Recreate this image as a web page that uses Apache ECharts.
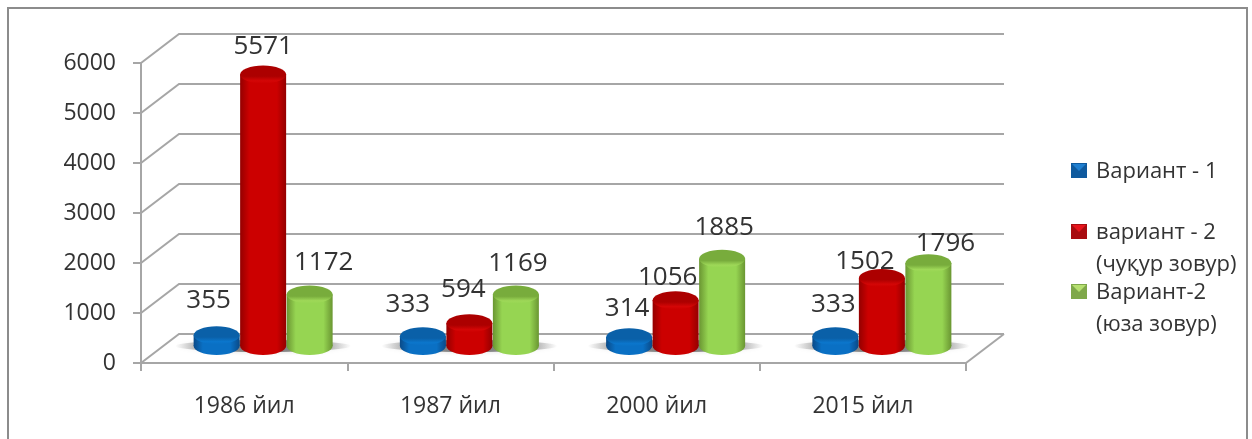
<!DOCTYPE html>
<html>
<head>
<meta charset="utf-8">
<style>html,body{margin:0;padding:0;background:#fff}#chart{width:1252px;height:439px}</style>
<script src="https://cdn.jsdelivr.net/npm/echarts@6/dist/echarts.min.js"></script>
</head>
<body>
<div id="chart"></div>
<script>
const years = ['1986 йил', '1987 йил', '2000 йил', '2015 йил'];
const variant1 = [355, 333, 314, 333];
const variant2Deep = [5571, 594, 1056, 1502];
const variant2Surface = [1172, 1169, 1885, 1796];
const seriesNames = ['Вариант - 1', 'вариант - 2\n(чуқур зовур)', 'Вариант-2\n(юза зовур)'];
const valueTicks = [0, 1000, 2000, 3000, 4000, 5000, 6000];

// Hand placement of the value labels relative to the top of each cylinder
const labelNudge = [
  [[-8, -35], [-15, -32], [-2, -29], [-2, -32]],
  [[0, -28], [-6, -34], [-8, -23], [-17, -16]],
  [[14, -32], [2, -31], [2, -31], [17, -20]]
];

const GREY = '#a6a6a6';
const TEXT = '#333333';
const FONT = '"Open Sans", "Noto Sans", sans-serif';
const DEPTH_X = 38, DEPTH_Y = 29;       // offset of the back wall from the front edge
const BAR_RX = 23, BAR_RY = 9;          // cylinder radii
const BAR_SHIFT_X = 19;                 // cylinders stand in the middle of the floor
const BASE_LIFT = 17, TOP_LIFT = 10;    // cylinder foot and head lift above the axis
const BAR_STEP = 46.5;

const palette = [
  { edge: '#0a4a88', mid: '#0a70c4', top: '#0a60a8', topLight: '#0b76cc', icon: '#1f7fd0', iconDark: '#0f5a9e' },
  { edge: '#940000', mid: '#cc0000', top: '#ac0000', topLight: '#d40606', icon: '#e8141c', iconDark: '#a80c10' },
  { edge: '#6a9632', mid: '#96d552', top: '#78ac3c', topLight: '#9ed858', icon: '#b6e070', iconDark: '#7fa84a' }
];

function hGradient(c) {
  return {
    type: 'linear', x: 0, y: 0, x2: 1, y2: 0,
    colorStops: [
      { offset: 0, color: c.edge },
      { offset: 0.2, color: c.mid },
      { offset: 0.8, color: c.mid },
      { offset: 1, color: c.edge }
    ]
  };
}

function topGradient(c) {
  return {
    type: 'linear', x: 0, y: 0, x2: 0, y2: 1,
    colorStops: [
      { offset: 0, color: c.top },
      { offset: 0.6, color: c.top },
      { offset: 0.85, color: c.topLight },
      { offset: 1, color: c.mid }
    ]
  };
}

// Back wall gridlines with their diagonals running to the front axis
function renderWall(params, api) {
  const p = api.coord([0, api.value(0)]);
  const left = params.coordSys.x;
  const right = left + params.coordSys.width;
  return {
    type: 'polyline',
    shape: { points: [[left, p[1]], [left + DEPTH_X, p[1] - DEPTH_Y], [right + DEPTH_X, p[1] - DEPTH_Y]] },
    style: { stroke: GREY, lineWidth: 2, fill: null },
    silent: true
  };
}

// Floor edge on the right-hand side
function renderFloorEdge(params, api) {
  const o = api.coord([0, 0]);
  const right = params.coordSys.x + params.coordSys.width;
  return {
    type: 'line',
    shape: { x1: right, y1: o[1], x2: right + DEPTH_X, y2: o[1] - DEPTH_Y },
    style: { stroke: GREY, lineWidth: 2 }, silent: true
  };
}

// Soft shadow the cylinders of one group cast on the floor
function renderShadow(params, api) {
  const c = api.coord([api.value(0), 0]);
  const cx = c[0] + BAR_SHIFT_X;
  const cy = c[1] - BASE_LIFT;
  return {
    type: 'ellipse',
    shape: { cx: cx, cy: cy, rx: 88, ry: 6 },
    style: {
      fill: {
        type: 'linear', x: 0, y: 0, x2: 1, y2: 0,
        colorStops: [
          { offset: 0, color: 'rgba(120,120,120,0)' },
          { offset: 0.2, color: 'rgba(100,100,100,0.75)' },
          { offset: 0.8, color: 'rgba(100,100,100,0.75)' },
          { offset: 1, color: 'rgba(120,120,120,0)' }
        ]
      },
      shadowBlur: 4,
      shadowColor: 'rgba(150,150,150,0.4)'
    },
    silent: true
  };
}

function cylinderRenderer(seriesIndex) {
  const col = palette[seriesIndex];
  return function (params, api) {
    const cat = api.value(0);
    const base = api.coord([cat, 0]);
    const head = api.coord([cat, api.value(1)]);
    const cx = base[0] + BAR_SHIFT_X + (seriesIndex - 1) * BAR_STEP;
    const footY = base[1] - BASE_LIFT;
    const topY = Math.min(head[1] - TOP_LIFT, footY - 1);
    const side = hGradient(col);
    const nudge = labelNudge[seriesIndex][cat];
    return {
      type: 'group',
      children: [
        { type: 'ellipse', shape: { cx: cx, cy: footY, rx: BAR_RX, ry: BAR_RY }, style: { fill: side } },
        { type: 'rect', shape: { x: cx - BAR_RX, y: topY, width: BAR_RX * 2, height: footY - topY }, style: { fill: side } },
        { type: 'ellipse', shape: { cx: cx, cy: topY, rx: BAR_RX, ry: BAR_RY }, style: { fill: topGradient(col) } },
        {
          type: 'text', z2: 50,
          style: {
            x: cx + nudge[0], y: topY + nudge[1],
            text: String(api.value(1)),
            fill: TEXT, font: '26px ' + FONT, align: 'center', verticalAlign: 'middle'
          }
        }
      ]
    };
  };
}

function tableOf(values) {
  return values.map(function (v, i) { return [i, v]; });
}

// Legend keys: bevelled square followed by the series name
function legendEntry(i, iconX, iconY) {
  const c = palette[i];
  return {
    type: 'group',
    children: [
      { type: 'rect', shape: { x: iconX, y: iconY, width: 16, height: 15 }, style: { fill: c.iconDark } },
      { type: 'polygon', shape: { points: [[iconX + 1, iconY + 1], [iconX + 15, iconY + 1], [iconX + 8, iconY + 8]] }, style: { fill: c.icon } },
      {
        type: 'text',
        style: {
          x: iconX + 25, y: iconY - 7, text: seriesNames[i],
          fill: TEXT, font: '22px ' + FONT, lineHeight: 32, align: 'left', verticalAlign: 'top'
        }
      }
    ]
  };
}

const chart = echarts.init(document.getElementById('chart'), null, { renderer: 'canvas' });
chart.setOption({
  animation: false,
  backgroundColor: '#ffffff',
  grid: { left: 141, right: 286, top: 63, height: 300 },
  xAxis: {
    type: 'category', data: years, boundaryGap: true,
    axisLine: { lineStyle: { color: GREY, width: 2 } },
    axisTick: { show: true, alignWithLabel: false, length: 8, lineStyle: { color: GREY, width: 2 } },
    axisLabel: { color: TEXT, fontFamily: FONT, fontSize: 23, margin: 32 }
  },
  yAxis: {
    type: 'value', min: 0, max: 6000, interval: 1000,
    axisLine: { show: true, lineStyle: { color: GREY, width: 2 } },
    axisTick: { show: true, length: 8, lineStyle: { color: GREY, width: 2 } },
    axisLabel: {
      color: TEXT, fontFamily: FONT, fontSize: 23, margin: 25,
      padding: [4, 0, 0, 0],
      formatter: function (v) { return String(v); }
    },
    splitLine: { show: false }
  },
  graphic: [
    { type: 'rect', shape: { x: 8, y: 8, width: 1239, height: 460 }, style: { fill: 'none', stroke: '#8c8c8c', lineWidth: 2 }, silent: true },
    legendEntry(0, 1071, 163),
    legendEntry(1, 1071, 224),
    legendEntry(2, 1071, 284)
  ],
  series: [
    { type: 'custom', name: 'стена', renderItem: renderWall, data: valueTicks.map(function (v) { return [v]; }), encode: { y: 0 }, z: 1, silent: true },
    { type: 'custom', name: 'пол', renderItem: renderFloorEdge, data: [[0]], encode: { y: 0 }, z: 1, silent: true },
    { type: 'custom', name: 'тень', renderItem: renderShadow, data: years.map(function (y, i) { return [i]; }), encode: { x: 0 }, z: 2, silent: true },
    { type: 'custom', name: seriesNames[0], renderItem: cylinderRenderer(0), data: tableOf(variant1), encode: { x: 0, y: 1 }, z: 3 },
    { type: 'custom', name: seriesNames[1], renderItem: cylinderRenderer(1), data: tableOf(variant2Deep), encode: { x: 0, y: 1 }, z: 4 },
    { type: 'custom', name: seriesNames[2], renderItem: cylinderRenderer(2), data: tableOf(variant2Surface), encode: { x: 0, y: 1 }, z: 5 }
  ]
});
</script>
</body>
</html>
